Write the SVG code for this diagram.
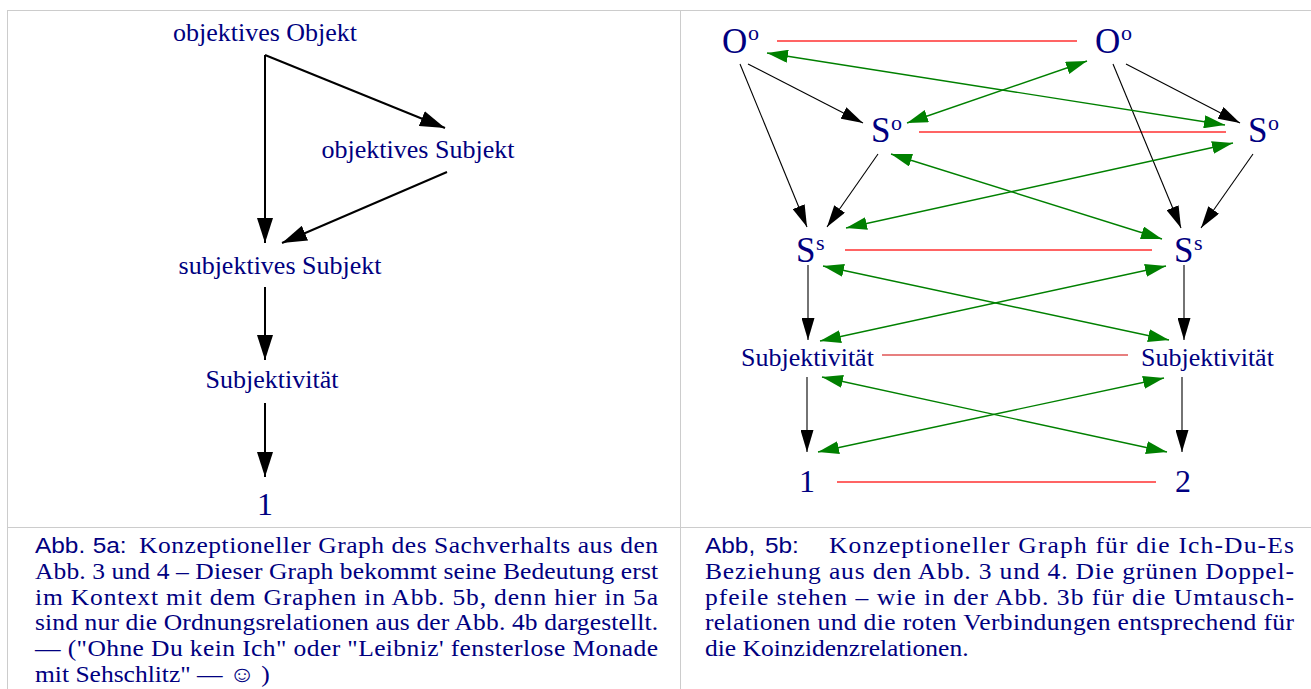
<svg xmlns="http://www.w3.org/2000/svg" width="1311" height="689" viewBox="0 0 1311 689">
<style>
.lbl{font-family:"Liberation Serif","Times New Roman",serif;fill:#000080;font-size:26px}
.big{font-family:"Liberation Serif","Times New Roman",serif;fill:#000080;font-size:35px}
.sup{font-family:"Liberation Serif","Times New Roman",serif;fill:#000080;font-size:22px}
.num{font-family:"Liberation Serif","Times New Roman",serif;fill:#000080;font-size:32px}
.cap{font-family:"Liberation Serif","Times New Roman",serif;fill:#000080;font-size:23px}
.caps{font-family:"Liberation Sans",Arial,sans-serif;fill:#000080;font-size:22px}
.grid{stroke:#cccccc;stroke-width:1;fill:none}
.blk2{stroke:#000;stroke-width:2;fill:none;marker-end:url(#ahL)}
.blk1{stroke:#000;stroke-width:1.1;fill:none;marker-end:url(#ahR)}
.grn{stroke:#008000;stroke-width:1.4;fill:none;marker-start:url(#ahG);marker-end:url(#ahG)}
.red{stroke:#ff3030;stroke-width:1.4;fill:none}
</style>
<defs>
<marker id="ahL" markerUnits="userSpaceOnUse" markerWidth="25" markerHeight="16" viewBox="0 0 25 16" refX="25" refY="8" orient="auto"><path d="M0,0 L25,8 L0,16 z" fill="#000"/></marker>
<marker id="ahR" markerUnits="userSpaceOnUse" markerWidth="22" markerHeight="13" viewBox="0 0 22 13" refX="22" refY="6.5" orient="auto"><path d="M0,0 L22,6.5 L0,13 z" fill="#000"/></marker>
<marker id="ahG" markerUnits="userSpaceOnUse" markerWidth="21" markerHeight="13" viewBox="0 0 21 13" refX="21" refY="6.5" orient="auto-start-reverse"><path d="M0,0 L21,6.5 L0,13 z" fill="#008000"/></marker>
</defs>
<rect width="1311" height="689" fill="#fff"/>
<g id="table">
<line class="grid" x1="7" y1="10.5" x2="1311" y2="10.5"/>
<line class="grid" x1="7.5" y1="10" x2="7.5" y2="689"/>
<line class="grid" x1="680.5" y1="10" x2="680.5" y2="689"/>
<line class="grid" x1="7" y1="527.5" x2="1311" y2="527.5"/>
</g>
<g id="connectors">
<line class="blk2" x1="265" y1="55" x2="265" y2="243"/>
<line class="blk2" x1="265" y1="55" x2="445" y2="128"/>
<line class="blk2" x1="447" y1="172" x2="282" y2="243"/>
<line class="blk2" x1="265" y1="287" x2="265" y2="360"/>
<line class="blk2" x1="265" y1="403" x2="265" y2="477"/>
<line class="red" x1="777" y1="41" x2="1077" y2="41"/>
<line class="red" x1="919" y1="132" x2="1226" y2="132"/>
<line class="red" x1="845" y1="250" x2="1152" y2="250"/>
<line class="red" x1="882" y1="355" x2="1128" y2="355" style="stroke:#d00000;stroke-width:1.1"/>
<line class="red" x1="837" y1="482" x2="1156" y2="482"/>
<line class="blk1" x1="740" y1="64" x2="807" y2="227"/>
<line class="blk1" x1="748" y1="64" x2="863" y2="123"/>
<line class="blk1" x1="878" y1="154" x2="827" y2="227"/>
<line class="blk1" x1="1113" y1="64" x2="1181" y2="228"/>
<line class="blk1" x1="1126" y1="64" x2="1240" y2="123"/>
<line class="blk1" x1="1253" y1="154" x2="1201" y2="228"/>
<line class="blk1" x1="808" y1="265" x2="808" y2="340"/>
<line class="blk1" x1="1184" y1="265" x2="1184" y2="340"/>
<line class="blk1" x1="807" y1="377" x2="807" y2="452"/>
<line class="blk1" x1="1182" y1="377" x2="1182" y2="452"/>
<line class="grn" x1="767" y1="53" x2="1225" y2="125"/>
<line class="grn" x1="907" y1="123" x2="1087" y2="61"/>
<line class="grn" x1="891" y1="154" x2="1162" y2="239"/>
<line class="grn" x1="1233" y1="143" x2="846" y2="228"/>
<line class="grn" x1="823" y1="266" x2="1169" y2="340"/>
<line class="grn" x1="1166" y1="266" x2="820" y2="341"/>
<line class="grn" x1="822" y1="377" x2="1167" y2="452"/>
<line class="grn" x1="1164" y1="378" x2="818" y2="452"/>
</g>
<g id="a_oo"><text class="lbl" x="265" y="41" text-anchor="middle">objektives Objekt</text></g>
<g id="a_os"><text class="lbl" x="418" y="158" text-anchor="middle">objektives Subjekt</text></g>
<g id="a_ss"><text class="lbl" x="280" y="274" text-anchor="middle">subjektives Subjekt</text></g>
<g id="a_subj"><text class="lbl" x="272" y="388" text-anchor="middle">Subjektivität</text></g>
<g id="a_1"><text class="num" x="265" y="515" text-anchor="middle">1</text></g>
<g id="b_ooL"><text class="big" x="722" y="53">O</text><text class="sup" x="748" y="40">o</text></g>
<g id="b_ooR"><text class="big" x="1095" y="53">O</text><text class="sup" x="1121" y="40">o</text></g>
<g id="b_soL"><text class="big" x="871" y="142">S</text><text class="sup" x="891" y="130">o</text></g>
<g id="b_soR"><text class="big" x="1248" y="142">S</text><text class="sup" x="1268" y="130">o</text></g>
<g id="b_ssL"><text class="big" x="796" y="262">S</text><text class="sup" x="816" y="250">s</text></g>
<g id="b_ssR"><text class="big" x="1174" y="262">S</text><text class="sup" x="1194" y="250">s</text></g>
<g id="b_subjL"><text class="lbl" x="741" y="366">Subjektivität</text></g>
<g id="b_subjR"><text class="lbl" x="1141" y="366">Subjektivität</text></g>
<g id="b_1"><text class="num" x="807" y="492" text-anchor="middle">1</text></g>
<g id="b_2"><text class="num" x="1183" y="492" text-anchor="middle">2</text></g>
<g id="caption_a" transform="translate(35,0) scale(1.11,1)">
<text class="caps" x="0" y="553">Abb.</text>
<text class="caps" x="52" y="553">5a:</text>
<text class="cap" x="93.7" y="553" textLength="467.6" lengthAdjust="spacing">Konzeptioneller Graph des Sachverhalts aus den</text>
<text class="cap" x="0" y="579" textLength="561.3" lengthAdjust="spacing">Abb. 3 und 4 – Dieser Graph bekommt seine Bedeutung erst</text>
<text class="cap" x="0" y="605" textLength="561.3" lengthAdjust="spacing">im Kontext mit dem Graphen in Abb. 5b, denn hier in 5a</text>
<text class="cap" x="0" y="630" textLength="561.3" lengthAdjust="spacing">sind nur die Ordnungsrelationen aus der Abb. 4b dargestellt.</text>
<text class="cap" x="0" y="656" textLength="561.3" lengthAdjust="spacing">— ("Ohne Du kein Ich" oder "Leibniz' fensterlose Monade</text>
<text class="cap" x="0" y="682">mit Sehschlitz" — ☺ )</text>
</g>
<g id="caption_b" transform="translate(705,0) scale(1.11,1)">
<text class="caps" x="0" y="553">Abb,</text>
<text class="caps" x="54" y="553">5b:</text>
<text class="cap" x="111.7" y="553" textLength="418.9" lengthAdjust="spacing">Konzeptioneller Graph für die Ich-Du-Es</text>
<text class="cap" x="0" y="579" textLength="530.6" lengthAdjust="spacing">Beziehung aus den Abb. 3 und 4. Die grünen Doppel-</text>
<text class="cap" x="0" y="605" textLength="530.6" lengthAdjust="spacing">pfeile stehen – wie in der Abb. 3b für die Umtausch-</text>
<text class="cap" x="0" y="630" textLength="530.6" lengthAdjust="spacing">relationen und die roten Verbindungen entsprechend für</text>
<text class="cap" x="0" y="656">die Koinzidenzrelationen.</text>
</g>
</svg>
